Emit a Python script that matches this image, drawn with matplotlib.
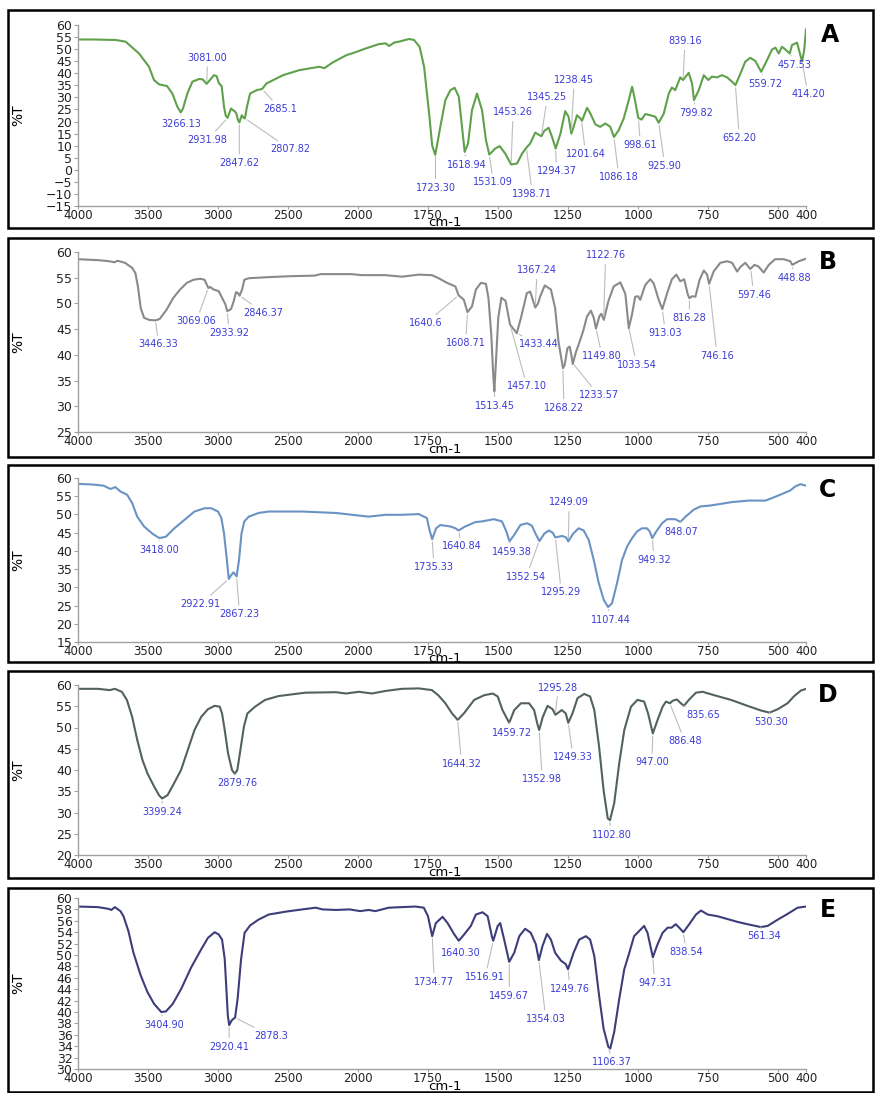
import numpy as np
import matplotlib
matplotlib.use("Agg")
import matplotlib.pyplot as plt
from matplotlib.patches import Rectangle

# wavenumber (cm-1) and %T
wn_a = [4000, 3900, 3800, 3730, 3660, 3564, 3493, 3457, 3421, 3364, 3326, 3290, 3266, 3250, 3219, 3183,
        3136, 3110, 3081, 3064, 3029, 3010, 2993, 2974, 2957, 2945, 2932, 2907, 2893, 2881, 2869, 2858,
        2848, 2830, 2818, 2808, 2793, 2771, 2724, 2685, 2653, 2536, 2419, 2276, 2240, 2183, 2083, 2024,
        1972, 1925, 1901, 1889, 1871, 1854, 1818, 1800, 1780, 1764, 1746, 1735, 1724, 1706, 1688, 1670,
        1655, 1640, 1626, 1619, 1607, 1593, 1575, 1557, 1543, 1531, 1510, 1494, 1474, 1453, 1432, 1414,
        1399, 1385, 1367, 1345, 1335, 1319, 1307, 1294, 1277, 1260, 1248, 1238, 1230, 1218, 1206, 1200,
        1182, 1170, 1152, 1135, 1117, 1099, 1086, 1069, 1051, 1033, 1021, 1012, 999, 987, 974, 956,
        938, 926, 908, 890, 879, 867, 849, 839, 819, 807, 800, 783, 765, 749, 736, 718,
        700, 682, 664, 652, 634, 617, 599, 581, 560, 539, 521, 509, 497, 486, 474, 458,
        450, 432, 420, 414, 406, 400]
pt_a = [54.0, 54.0, 53.9, 53.8, 53.1, 48.2, 42.7, 37.2, 35.4, 34.7, 31.6, 26.1, 23.8, 25.4, 31.6, 36.5,
        37.6, 37.5, 35.6, 36.8, 39.2, 38.8, 35.8, 34.7, 26.1, 22.5, 21.5, 25.4, 24.7, 24.3, 23.3, 20.8,
        19.6, 22.6, 21.6, 21.3, 26.1, 31.6, 33.0, 33.5, 35.8, 39.2, 41.3, 42.7, 42.1, 44.4, 47.5, 48.6,
        50.3, 52.1, 52.4, 51.3, 52.7, 53.1, 54.2, 53.8, 51.0, 42.7, 23.3, 10.0, 6.2, 17.8, 28.9, 33.0,
        34.0, 30.3, 15.0, 7.4, 10.9, 24.7, 31.6, 24.7, 12.3, 6.3, 8.8, 9.8, 6.7, 2.2, 2.6, 6.7,
        9.1, 10.9, 15.4, 13.9, 16.1, 17.4, 13.6, 8.8, 15.0, 24.3, 22.0, 15.0, 17.8, 22.6, 21.3, 20.3,
        25.7, 23.3, 18.8, 17.8, 19.2, 17.8, 13.6, 16.4, 21.3, 28.9, 34.4, 29.6, 21.5, 20.8, 23.1, 22.6,
        22.0, 19.5, 23.3, 31.6, 34.1, 33.0, 38.3, 37.2, 40.2, 35.8, 28.9, 33.0, 39.2, 37.2, 38.6, 38.3,
        39.2, 38.3, 36.5, 35.1, 39.9, 44.8, 46.4, 45.1, 40.6, 45.5, 49.9, 50.6, 48.2, 51.0, 49.9, 48.2,
        51.7, 52.7, 47.5, 44.8, 50.0, 58.2]

wn_b = [4000, 3848, 3776, 3740, 3717, 3664, 3613, 3590, 3572, 3552, 3528, 3492, 3446, 3416, 3367, 3319,
        3271, 3223, 3175, 3127, 3096, 3069, 3055, 3031, 2995, 2971, 2947, 2934, 2907, 2888, 2871, 2857,
        2846, 2828, 2812, 2781, 2648, 2481, 2313, 2265, 2049, 1986, 1902, 1843, 1783, 1736, 1712, 1682,
        1652, 1641, 1622, 1609, 1593, 1579, 1561, 1543, 1534, 1524, 1517, 1513, 1508, 1499, 1488, 1473,
        1457, 1443, 1433, 1418, 1397, 1385, 1367, 1357, 1349, 1333, 1311, 1296, 1284, 1268, 1262, 1252,
        1244, 1238, 1233, 1222, 1212, 1196, 1182, 1168, 1158, 1150, 1138, 1131, 1122, 1106, 1087, 1063,
        1045, 1033, 1022, 1010, 1000, 992, 974, 956, 944, 926, 913, 896, 879, 863, 849, 835,
        822, 816, 807, 795, 780, 765, 753, 746, 730, 706, 682, 664, 646, 634, 617, 599,
        584, 570, 551, 533, 510, 480, 456, 449, 426, 400]
pt_b = [58.6, 58.4, 58.2, 58.0, 58.3, 57.9, 56.9, 55.9, 53.3, 49.1, 47.2, 46.8, 46.7, 47.0, 48.8, 51.1,
        52.7, 54.0, 54.6, 54.8, 54.6, 53.0, 53.2, 52.7, 52.4, 51.1, 49.8, 48.5, 48.9, 50.4, 52.2, 52.0,
        51.5, 52.7, 54.6, 54.9, 55.1, 55.3, 55.4, 55.7, 55.7, 55.5, 55.5, 55.2, 55.6, 55.5, 54.9, 54.0,
        53.3, 51.6, 50.7, 48.3, 49.4, 52.7, 54.0, 53.8, 51.0, 43.9, 36.1, 32.9, 38.0, 47.2, 51.1, 50.5,
        45.9, 44.9, 44.2, 47.2, 52.0, 52.3, 49.2, 50.0, 51.4, 53.5, 52.7, 49.1, 42.6, 37.4, 38.0, 41.3,
        41.6, 40.0, 38.2, 40.5, 42.0, 44.6, 47.5, 48.6, 47.2, 45.1, 47.5, 48.0, 46.8, 50.4, 53.3, 54.1,
        51.8, 45.2, 47.7, 51.3, 51.4, 50.7, 53.6, 54.7, 53.9, 50.7, 48.9, 52.0, 54.7, 55.6, 54.3, 54.7,
        51.7, 51.0, 51.4, 51.3, 54.6, 56.4, 55.6, 53.8, 56.2, 57.9, 58.2, 57.9, 56.2, 57.1, 57.9, 56.7,
        57.5, 57.2, 56.0, 57.5, 58.6, 58.6, 58.2, 57.5, 58.2, 58.7]

wn_c = [4000, 3890, 3818, 3769, 3733, 3697, 3649, 3613, 3577, 3528, 3468, 3418, 3372, 3312, 3240, 3168,
        3096, 3048, 3000, 2976, 2957, 2939, 2923, 2905, 2890, 2878, 2867, 2850, 2832, 2812, 2780, 2711,
        2638, 2398, 2157, 1962, 1902, 1843, 1783, 1754, 1745, 1735, 1721, 1706, 1688, 1670, 1652, 1641,
        1617, 1581, 1557, 1515, 1486, 1470, 1459, 1442, 1420, 1396, 1379, 1364, 1352, 1335, 1319, 1305,
        1295, 1271, 1257, 1249, 1232, 1212, 1194, 1176, 1158, 1140, 1122, 1107, 1093, 1075, 1057, 1039,
        1021, 1004, 986, 968, 958, 949, 935, 914, 896, 867, 855, 848, 830, 801, 777, 747,
        712, 664, 605, 545, 521, 486, 456, 438, 420, 400]
pt_c = [58.4, 58.2, 57.9, 57.0, 57.5, 56.3, 55.4, 53.1, 49.4, 46.7, 44.7, 43.5, 43.9, 46.2, 48.5, 50.8,
        51.7, 51.7, 50.8, 49.0, 44.8, 38.4, 32.3, 33.4, 34.1, 33.6, 33.0, 37.5, 44.8, 48.1, 49.4, 50.4,
        50.8, 50.8, 50.4, 49.4, 49.9, 49.9, 50.1, 49.0, 45.8, 43.2, 46.2, 47.1, 46.9, 46.7, 46.2, 45.6,
        46.7, 47.9, 48.1, 48.7, 48.1, 45.3, 42.6, 44.4, 47.1, 47.6, 46.9, 44.4, 42.7, 44.7, 45.6, 45.0,
        43.7, 44.1, 43.7, 42.6, 44.7, 46.2, 45.6, 43.0, 37.5, 31.1, 26.5, 24.6, 25.6, 31.1, 37.5, 41.2,
        43.5, 45.3, 46.2, 46.2, 45.3, 43.5, 45.3, 47.6, 48.7, 48.7, 48.2, 48.0, 49.4, 51.3, 52.2, 52.4,
        52.8, 53.4, 53.8, 53.8, 54.5, 55.6, 56.6, 57.7, 58.3, 57.9]

wn_d = [4000, 3857, 3773, 3737, 3687, 3651, 3613, 3577, 3540, 3504, 3456, 3420, 3399, 3360, 3320, 3264,
        3216, 3168, 3120, 3072, 3024, 2988, 2971, 2952, 2928, 2900, 2880, 2862, 2840, 2815, 2790, 2735,
        2663, 2567, 2471, 2374, 2157, 2085, 1997, 1950, 1902, 1843, 1783, 1736, 1712, 1688, 1664, 1644,
        1622, 1585, 1549, 1519, 1501, 1484, 1460, 1442, 1418, 1389, 1371, 1360, 1353, 1340, 1323, 1305,
        1295, 1272, 1258, 1249, 1234, 1216, 1192, 1171, 1156, 1139, 1123, 1108, 1100, 1085, 1067, 1049,
        1025, 1002, 978, 964, 947, 930, 912, 900, 886, 876, 861, 847, 836, 817, 793, 769,
        728, 668, 609, 561, 530, 501, 466, 442, 418, 400]
pt_d = [59.1, 59.1, 58.8, 59.1, 58.4, 56.5, 52.5, 47.1, 42.4, 39.2, 36.1, 34.0, 33.3, 34.1, 36.5, 40.0,
        44.7, 49.4, 52.5, 54.3, 55.1, 54.9, 53.3, 49.4, 43.9, 40.0, 39.1, 40.0, 44.7, 50.2, 53.3, 54.9,
        56.5, 57.4, 57.8, 58.2, 58.3, 58.0, 58.4, 58.0, 58.6, 59.1, 59.2, 58.8, 57.5, 55.7, 53.3, 51.8,
        53.3, 56.5, 57.6, 58.0, 57.3, 54.1, 51.1, 54.1, 55.7, 55.7, 54.1, 51.0, 49.4, 52.5, 55.1, 54.3,
        53.0, 54.1, 53.3, 51.1, 53.3, 56.9, 57.9, 57.3, 54.1, 45.5, 35.3, 28.6, 28.2, 32.2, 41.6, 49.4,
        54.9, 56.5, 56.1, 53.3, 48.6, 51.8, 54.9, 56.1, 55.7, 56.3, 56.6, 55.7, 55.1, 56.6, 58.2, 58.4,
        57.6, 56.5, 55.1, 54.0, 53.5, 54.3, 55.7, 57.4, 58.7, 59.1]

wn_e = [4000, 3857, 3783, 3761, 3737, 3697, 3675, 3640, 3604, 3552, 3504, 3456, 3405, 3372, 3324, 3264,
        3192, 3120, 3072, 3024, 2995, 2971, 2952, 2940, 2930, 2920, 2903, 2890, 2878, 2860, 2835, 2810,
        2770, 2711, 2638, 2518, 2398, 2302, 2254, 2157, 2061, 1992, 1962, 1938, 1890, 1843, 1795, 1765,
        1750, 1735, 1722, 1698, 1680, 1656, 1640, 1621, 1597, 1579, 1555, 1537, 1522, 1517, 1501, 1492,
        1478, 1460, 1442, 1424, 1403, 1383, 1365, 1354, 1341, 1325, 1311, 1296, 1275, 1258, 1250, 1230,
        1210, 1186, 1171, 1156, 1139, 1123, 1106, 1099, 1085, 1067, 1049, 1031, 1014, 996, 978, 966,
        947, 930, 912, 894, 880, 865, 849, 838, 817, 793, 775, 751, 716, 680, 644, 609,
        561, 537, 501, 466, 430, 400]
pt_e = [58.5, 58.4, 58.1, 57.9, 58.4, 57.7, 56.8, 54.2, 50.4, 46.4, 43.5, 41.4, 40.0, 40.1, 41.4, 44.0,
        47.8, 51.0, 53.0, 54.0, 53.6, 52.7, 49.3, 44.0, 39.4, 37.7, 38.5, 38.8, 39.0, 42.3, 49.3, 53.9,
        55.2, 56.2, 57.1, 57.6, 58.0, 58.3, 58.0, 57.9, 58.0, 57.7, 57.9, 57.7, 58.3, 58.4, 58.5, 58.3,
        56.8, 53.3, 55.6, 56.7, 55.6, 53.6, 52.5, 53.6, 55.1, 57.1, 57.5, 56.8, 53.3, 52.5, 55.1, 55.6,
        52.7, 48.8, 50.4, 53.3, 54.6, 53.9, 51.9, 49.1, 51.6, 53.7, 52.7, 50.4, 49.0, 48.4, 47.5, 50.4,
        52.7, 53.3, 52.7, 49.8, 42.9, 37.1, 33.9, 33.6, 36.5, 42.3, 47.5, 50.4, 53.3, 54.2, 55.1, 53.9,
        49.6, 51.9, 53.9, 54.8, 54.8, 55.4, 54.6, 54.0, 55.4, 57.1, 57.8, 57.1, 56.8, 56.3, 55.8, 55.4,
        54.9, 55.1, 56.2, 57.2, 58.3, 58.5]

# peak labels
peaks_a = ["3266.13", "3081.00", "2931.98", "2847.62", "2807.82", "2685.1", "1723.30", "1618.94",
           "1531.09", "1453.26", "1398.71", "1345.25", "1294.37", "1238.45", "1201.64", "1086.18",
           "998.61", "925.90", "839.16", "799.82", "652.20", "559.72", "457.53", "414.20"]
peaks_b = ["3446.33", "3069.06", "2933.92", "2846.37", "1640.6", "1608.71", "1513.45", "1457.10",
           "1433.44", "1367.24", "1268.22", "1233.57", "1149.80", "1122.76", "1033.54", "913.03",
           "816.28", "746.16", "597.46", "448.88"]
peaks_c = ["3418.00", "2922.91", "2867.23", "1735.33", "1640.84", "1459.38", "1352.54", "1295.29",
           "1249.09", "1107.44", "949.32", "848.07"]
peaks_d = ["3399.24", "2879.76", "1644.32", "1459.72", "1352.98", "1295.28", "1249.33", "1102.80",
           "947.00", "886.48", "835.65", "530.30"]
peaks_e = ["3404.90", "2920.41", "2878.3", "1734.77", "1640.30", "1516.91", "1459.67", "1354.03",
           "1249.76", "1106.37", "947.31", "838.54", "561.34"]

xticks = [4000, 3500, 3000, 2500, 2000, 1750, 1500, 1250, 1000, 750, 500, 400]

# label offsets from the peak, in pixels
offs_a = [(1, -12), (1, 26), (-20, -22), (0, -41), (45, -31), (18, -20), (0, -34), (2, -13),
          (4, -28), (2, 52), (6, -46), (6, 39), (1, -23), (3, 53), (4, -34), (5, -40),
          (2, -27), (6, -43), (2, 39), (2, -13), (4, -53), (4, -12), (5, -12), (6, -33)]
offs_b = [(3, -24), (-12, -33), (2, -22), (24, -17), (-33, -28), (-2, -31), (1, -16), (17, -62),
          (22, -11), (2, 37), (1, -40), (26, -32), (6, -28), (2, 64), (8, -38), (3, -24),
          (0, -20), (8, -72), (3, -26), (2, -13)]
offs_c = [(0, -12), (-28, -25), (3, -38), (2, -28), (3, -16), (3, -11), (-13, -36), (6, -55),
          (1, 39), (3, -13), (2, -22), (1, -10)]
offs_d = [(0, -14), (2, -9), (4, -44), (3, -10), (3, -49), (3, 27), (5, -35), (3, -15),
          (-1, -29), (15, -38), (19, -9), (2, -9)]
offs_e = [(3, -13), (0, -22), (36, -18), (2, -46), (2, -12), (-8, -36), (0, -34), (7, -59),
          (2, -20), (4, -16), (2, -26), (3, -20), (3, -9)]


def fwd(x):
    x = np.asarray(x, dtype=float)
    return np.where(x >= 2000, x, 2 * x - 2000)


def inv(y):
    y = np.asarray(y, dtype=float)
    return np.where(y >= 2000, y, (y + 2000) / 2)


W, H = 875, 1093
fig = plt.figure(figsize=(W / 100, H / 100), dpi=100)

panels = [
    ("A", wn_a, pt_a, peaks_a, offs_a, "#5fa04b", (-15, 60, 5), (25, 206), (10, 228), (830, 35)),
    ("B", wn_b, pt_b, peaks_b, offs_b, "#8a8a8a", (25, 60, 5), (252, 432), (238, 457), (828, 262)),
    ("C", wn_c, pt_c, peaks_c, offs_c, "#6a93c4", (15, 60, 5), (478, 642), (465, 662), (828, 490)),
    ("D", wn_d, pt_d, peaks_d, offs_d, "#53625c", (20, 60, 5), (685, 855), (671, 878), (828, 695)),
    ("E", wn_e, pt_e, peaks_e, offs_e, "#3d3d7a", (30, 60, 2), (898, 1069), (888, 1092), (828, 910)),
]

for letter, wn, pt, peaks, offs, color, yr, ax_px, box_px, let_px in panels:
    top, bot = ax_px
    ax = fig.add_axes([78 / W, 1 - bot / H, 728 / W, (bot - top) / H])
    ax.set_xscale("function", functions=(fwd, inv))
    ax.plot(wn, pt, color=color, lw=1.5)
    ax.set_xlim(4000, 400)
    ax.set_ylim(yr[0], yr[1])
    ax.set_xticks(xticks)
    ax.set_xticklabels([str(t) for t in xticks])
    ax.set_yticks(np.arange(yr[0], yr[1] + 1, yr[2]))
    ax.minorticks_off()
    for s in ["top", "right"]:
        ax.spines[s].set_visible(False)
    for s in ["left", "bottom"]:
        ax.spines[s].set_color("#a0a0a0")
        ax.spines[s].set_linewidth(1.0)
    ax.tick_params(axis="x", length=2, pad=0.2, color="#a0a0a0", labelsize=8.5, labelcolor="#222222")
    ax.tick_params(axis="y", length=3, pad=1, color="#a0a0a0", labelsize=9, labelcolor="#222222")
    ax.set_ylabel("%T", fontsize=10)
    ax.yaxis.set_label_coords(-0.073, 0.5)
    ax.annotate("cm-1", xy=(0.5, 0), xycoords="axes fraction", xytext=(3, -10.5),
                textcoords="offset pixels", ha="center", va="top", fontsize=9.5)

    xs = np.array(wn[::-1], dtype=float)
    ys = np.array(pt[::-1], dtype=float)
    for lab, (dx, dy) in zip(peaks, offs):
        w = float(lab)
        ax.annotate(lab, xy=(w, np.interp(w, xs, ys)), xytext=(dx, dy), textcoords="offset pixels",
                    ha="center", va="center", fontsize=7, color="#3b3bd6",
                    arrowprops=dict(arrowstyle="-", color="#bdbdbd", lw=0.8, shrinkA=1, shrinkB=2))

    btop, bbot = box_px
    fig.patches.append(Rectangle((8 / W, 1 - bbot / H), 865 / W, (bbot - btop) / H,
                                 transform=fig.transFigure, fill=False, ec="black", lw=1.8))
    fig.text(let_px[0] / W, 1 - let_px[1] / H, letter, ha="center", va="center",
             fontsize=17, fontweight="bold")

fig.savefig("out.png", dpi=100)
